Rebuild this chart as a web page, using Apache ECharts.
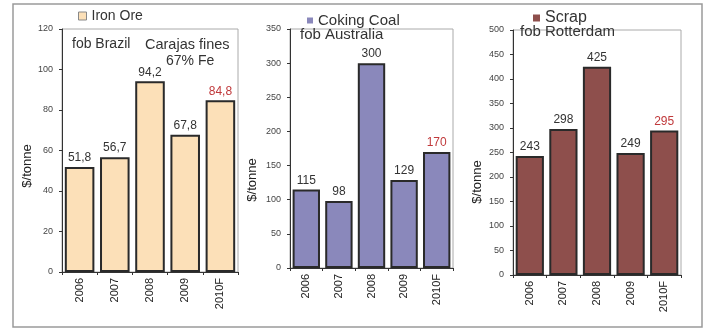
<!DOCTYPE html>
<html>
<head>
<meta charset="utf-8">
<script src="https://cdn.jsdelivr.net/npm/echarts@6/dist/echarts.min.js"></script>
<style>
  html, body { margin: 0; padding: 0; background: #fff; }
  #chart { width: 711px; height: 330px; }
</style>
</head>
<body>
<div id="chart"></div>
<script>
// Years shown on every panel
const years = ['2006', '2007', '2008', '2009', '2010F'];

// Prices in $/tonne
const ironOre = [51.8, 56.7, 94.2, 67.8, 84.8];
const cokingCoal = [115, 98, 300, 129, 170];
const scrap = [243, 298, 425, 249, 295];

// Value-axis ticks per panel
const ironTicks = { max: 120, interval: 20 };
const coalTicks = { max: 350, interval: 50 };
const scrapTicks = { max: 500, interval: 50 };

const FONT = '"Liberation Sans", Arial, sans-serif';
const forecastIndex = 4;

function barData(values) {
  return values.map((v, i) => i === forecastIndex
    ? { value: v, label: { color: '#c0393b' } }
    : v);
}

function xAxis(gridIndex) {
  return {
    type: 'category', gridIndex, data: years,
    axisLine: { lineStyle: { color: '#333', width: 1 } },
    axisTick: { show: true, length: 3, lineStyle: { color: '#333' } },
    axisLabel: { rotate: 90, fontSize: 11, color: '#222', fontFamily: FONT, margin: 6 }
  };
}

function yAxis(gridIndex, t) {
  return {
    type: 'value', gridIndex, min: 0, max: t.max, interval: t.interval,
    axisLine: { show: true, lineStyle: { color: '#333', width: 1 } },
    axisTick: { show: true, length: 3, lineStyle: { color: '#333' } },
    splitLine: { show: false },
    axisLabel: { fontSize: 9, color: '#444', fontFamily: FONT, margin: 9 }
  };
}

function barSeries(name, idx, values, color, fmt) {
  return {
    name, type: 'bar', xAxisIndex: idx, yAxisIndex: idx,
    data: barData(values),
    barWidth: '84%',
    itemStyle: { color, borderColor: '#2a2a2a', borderWidth: 2 },
    label: {
      show: true, position: 'top', distance: 3,
      fontSize: 12, color: '#333', fontFamily: FONT,
      formatter: fmt
    }
  };
}

const commaDecimal = p => String(p.value).replace('.', ',');

function sideText(x, y, text) {
  return {
    type: 'text', x, y, rotation: Math.PI / 2,
    style: { text, font: '13px ' + FONT, fill: '#222', align: 'center', verticalAlign: 'middle' }
  };
}

function note(x, y, text, size) {
  return {
    type: 'text', x, y,
    style: { text, font: size + 'px ' + FONT, fill: '#333' }
  };
}

function legendBox(name, left, top, size, fontSize, itemStyle) {
  return {
    data: [name], left, top, icon: 'rect',
    itemWidth: size, itemHeight: size, itemGap: 4,
    itemStyle,
    textStyle: { fontSize, color: '#333', fontFamily: FONT }
  };
}

const chart = echarts.init(document.getElementById('chart'));
chart.setOption({
  animation: false,
  textStyle: { fontFamily: FONT },
  grid: [
    { left: 62, top: 29, width: 176, height: 243, show: true, borderColor: '#aaa', borderWidth: 1 },
    { left: 290, top: 29, width: 163, height: 239, show: true, borderColor: '#aaa', borderWidth: 1 },
    { left: 513, top: 30, width: 168, height: 245, show: true, borderColor: '#aaa', borderWidth: 1 }
  ],
  xAxis: [xAxis(0), xAxis(1), xAxis(2)],
  yAxis: [yAxis(0, ironTicks), yAxis(1, coalTicks), yAxis(2, scrapTicks)],
  legend: [
    legendBox('Iron Ore', 73, 4, 8, 14, { borderColor: '#888', borderWidth: 1 }),
    legendBox('Coking Coal', 302, 8, 6, 15, { borderWidth: 0 }),
    legendBox('Scrap', 528, 5, 7, 16, { borderWidth: 0 })
  ],
  series: [
    barSeries('Iron Ore', 0, ironOre, '#fce0b8', commaDecimal),
    barSeries('Coking Coal', 1, cokingCoal, '#8a88bb', '{c}'),
    barSeries('Scrap', 2, scrap, '#8e4f4c', '{c}')
  ],
  graphic: [
    { type: 'rect', shape: { x: 13, y: 4, width: 689, height: 323 },
      style: { fill: 'none', stroke: '#9a9a9a', lineWidth: 1.5 } },
    note(72, 37, 'fob Brazil', 14),
    note(145, 37, 'Carajas fines', 14.5),
    note(166, 54, '67% Fe', 14),
    note(300, 27, 'fob Australia', 15),
    note(520, 24, 'fob Rotterdam', 15),
    sideText(27, 166, '$/tonne'),
    sideText(252, 180, '$/tonne'),
    sideText(477, 182, '$/tonne')
  ]
});
</script>
</body>
</html>
